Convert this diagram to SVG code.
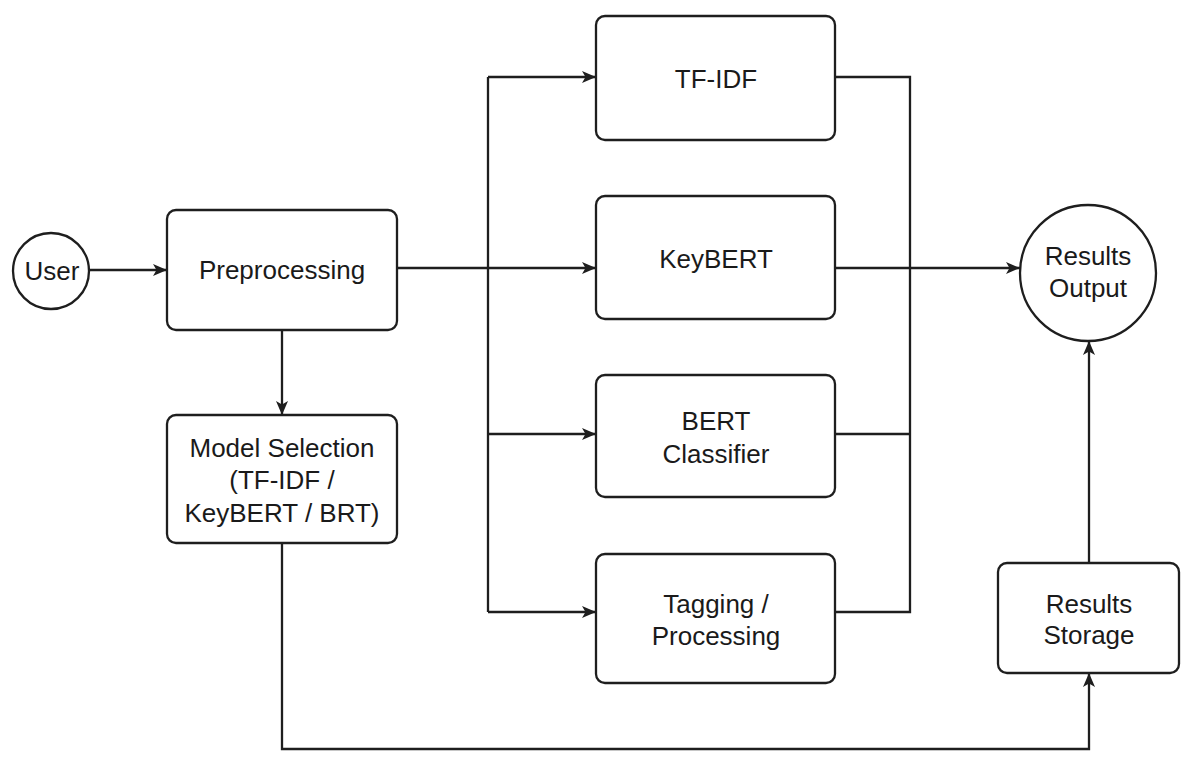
<svg xmlns="http://www.w3.org/2000/svg" width="1182" height="757" viewBox="0 0 1182 757">
  <style>
    .shape { fill: #ffffff; stroke: #1e1e1e; stroke-width: 2.3; }
    .wire { fill: none; stroke: #1e1e1e; stroke-width: 2.3; }
    .label { font-family: "Liberation Sans", Arial, Helvetica, sans-serif; font-size: 26px; fill: #1a1a1a; text-anchor: middle; }
  </style>
  <defs>
    <marker id="arrow" viewBox="0 0 14 12" refX="14" refY="6" markerWidth="14" markerHeight="12" markerUnits="userSpaceOnUse" orient="auto">
      <path d="M0,0 L14,6 L0,12 L3.5,6 Z" fill="#1e1e1e"/>
    </marker>
  </defs>
  <rect width="1182" height="757" fill="#ffffff"/>

  <!-- connectors -->
  <g id="connectors">
    <path class="wire" d="M90,270 H167" marker-end="url(#arrow)"/>
    <path class="wire" d="M282,330 V415" marker-end="url(#arrow)"/>
    <path class="wire" d="M397,268 H596" marker-end="url(#arrow)"/>
    <path class="wire" d="M488,77 V612"/>
    <path class="wire" d="M488,77 H596" marker-end="url(#arrow)"/>
    <path class="wire" d="M488,434 H596" marker-end="url(#arrow)"/>
    <path class="wire" d="M488,612 H596" marker-end="url(#arrow)"/>
    <path class="wire" d="M835,77 H910 V612 H835"/>
    <path class="wire" d="M835,434 H910"/>
    <path class="wire" d="M835,268 H1020" marker-end="url(#arrow)"/>
    <path class="wire" d="M282,543 V749 H1089 V673" marker-end="url(#arrow)"/>
    <path class="wire" d="M1089,563 V341" marker-end="url(#arrow)"/>
  </g>

  <g id="user">
    <circle class="shape" cx="51" cy="271" r="38"/>
    <text class="label" x="52" y="280">User</text>
  </g>

  <g id="preprocessing">
    <rect class="shape" x="167" y="210" width="230" height="120" rx="9"/>
    <text class="label" x="282" y="279">Preprocessing</text>
  </g>

  <g id="model-selection">
    <rect class="shape" x="167" y="415" width="230" height="128" rx="9"/>
    <text class="label" x="282" y="457">Model Selection</text>
    <text class="label" x="282" y="489">(TF-IDF /</text>
    <text class="label" x="282" y="522">KeyBERT / BRT)</text>
  </g>

  <g id="tfidf">
    <rect class="shape" x="596" y="16" width="239" height="124" rx="9"/>
    <text class="label" x="716" y="88">TF-IDF</text>
  </g>

  <g id="keybert">
    <rect class="shape" x="596" y="196" width="239" height="123" rx="9"/>
    <text class="label" x="716" y="268">KeyBERT</text>
  </g>

  <g id="bert-classifier">
    <rect class="shape" x="596" y="375" width="239" height="122" rx="9"/>
    <text class="label" x="716" y="430">BERT</text>
    <text class="label" x="716" y="463">Classifier</text>
  </g>

  <g id="tagging">
    <rect class="shape" x="596" y="554" width="239" height="129" rx="9"/>
    <text class="label" x="716" y="613">Tagging /</text>
    <text class="label" x="716" y="645">Processing</text>
  </g>

  <g id="results-output">
    <circle class="shape" cx="1088" cy="273" r="68"/>
    <text class="label" x="1088" y="265">Results</text>
    <text class="label" x="1088" y="297">Output</text>
  </g>

  <g id="results-storage">
    <rect class="shape" x="998" y="563" width="181" height="110" rx="9"/>
    <text class="label" x="1089" y="613">Results</text>
    <text class="label" x="1089" y="644">Storage</text>
  </g>
</svg>
